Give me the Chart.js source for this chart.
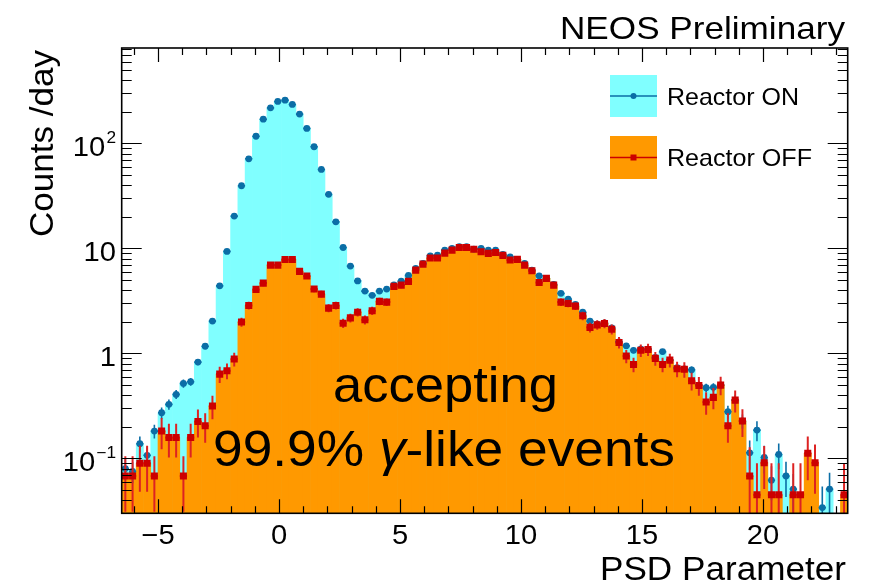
<!DOCTYPE html>
<html>
<head>
<meta charset="utf-8">
<script src="https://cdn.jsdelivr.net/npm/chart.js@4.4.0/dist/chart.umd.min.js"></script>
<style>
  html, body { margin: 0; padding: 0; background: #fff; }
  #wrap { width: 878px; height: 586px; }
</style>
</head>
<body>
<div id="wrap"><canvas id="psdChart" width="878" height="586"></canvas></div>
<script>
// binning of the PSD histogram
const xMin = -6.5, xMax = 23.5, binWidth = 0.3;
const yMin = 0.03, yMax = 810;

// counts/day per bin
const reactorOn = [
  0.080, 0.075, 0.138, 0.107, 0.182, 0.272, 0.327, 0.407, 0.518, 0.537,
  0.826, 1.17, 2.03, 4.40, 9.36, 20.3, 39.5, 71.3, 117, 170,
  218, 251, 258, 235, 190, 139, 92.9, 56.5, 32.7, 17.9,
  10.2, 6.78, 4.90, 3.92, 3.57, 3.92, 4.10, 4.50, 4.88, 5.53,
  6.45, 7.20, 8.50, 8.63, 9.63, 10.0, 10.4, 10.4, 9.85, 10.0,
  9.63, 9.63, 8.77, 8.32, 7.86, 7.20, 6.21, 5.48, 5.18, 4.54,
  3.73, 3.29, 2.93, 2.47, 2.03, 1.90, 1.95, 1.75, 1.29, 1.18,
  1.07, 1.10, 1.10, 0.916, 1.04, 0.863, 0.730, 0.713, 0.698, 0.499,
  0.471, 0.475, 0.499, 0.278, 0.359, 0.227, 0.113, 0.186, 0.102, 0.062,
  0.109, 0.068, 0.051, 0, 0, 0, 0.034, 0.051, 0, 0
];
const reactorOff = [
  0.068, 0.068, 0.090, 0.090, 0.068, 0.182, 0.158, 0.158, 0.068, 0.158,
  0.225, 0.205, 0.315, 0.635, 0.683, 0.883, 1.99, 2.86, 4.07, 4.67,
  6.93, 6.93, 7.85, 7.85, 6.04, 5.45, 4.10, 3.67, 2.70, 2.86,
  1.94, 2.18, 2.47, 2.09, 2.55, 3.13, 3.08, 4.35, 4.47, 4.85,
  6.21, 7.08, 8.09, 8.09, 9.02, 9.63, 10.2, 10.2, 9.80, 9.29,
  8.96, 9.15, 8.58, 7.74, 7.86, 6.93, 6.12, 4.74, 5.18, 4.47,
  3.08, 2.99, 2.82, 2.28, 1.77, 1.87, 1.93, 1.70, 1.27, 0.943,
  0.785, 1.07, 1.09, 0.896, 0.785, 0.863, 0.713, 0.705, 0.548, 0.495,
  0.344, 0.381, 0.499, 0.205, 0.359, 0.227, 0.068, 0.045, 0.091, 0.045,
  0.045, 0, 0.045, 0.045, 0.112, 0.091, 0, 0, 0, 0.045
];
// statistical errors (counts/day)
const reactorOnErr = [
  0.018, 0.017, 0.024, 0.021, 0.027, 0.033, 0.036, 0.040, 0.046, 0.046,
  0.057, 0.068, 0.090, 0.13, 0.19, 0.28, 0.40, 0.53, 0.68, 0.82,
  0.93, 1.0, 1.0, 0.97, 0.87, 0.75, 0.61, 0.48, 0.36, 0.27,
  0.20, 0.16, 0.14, 0.125, 0.12, 0.125, 0.128, 0.134, 0.14, 0.149,
  0.16, 0.17, 0.184, 0.186, 0.196, 0.20, 0.204, 0.204, 0.198, 0.20,
  0.196, 0.196, 0.187, 0.182, 0.177, 0.17, 0.158, 0.148, 0.144, 0.135,
  0.122, 0.115, 0.108, 0.099, 0.09, 0.087, 0.088, 0.084, 0.072, 0.069,
  0.065, 0.066, 0.066, 0.061, 0.064, 0.059, 0.054, 0.053, 0.053, 0.045,
  0.043, 0.044, 0.045, 0.04, 0.045, 0.035, 0.035, 0.04, 0.03, 0.022,
  0.03, 0.025, 0.02, 0, 0, 0, 0.02, 0.022, 0, 0
];
const reactorOffErr = [
  0.037, 0.037, 0.042, 0.042, 0.037, 0.060, 0.056, 0.056, 0.037, 0.056,
  0.067, 0.064, 0.079, 0.113, 0.117, 0.133, 0.20, 0.24, 0.285, 0.306,
  0.372, 0.372, 0.396, 0.396, 0.348, 0.33, 0.286, 0.271, 0.232, 0.239,
  0.197, 0.209, 0.222, 0.204, 0.226, 0.25, 0.248, 0.295, 0.299, 0.311,
  0.352, 0.376, 0.402, 0.402, 0.425, 0.439, 0.452, 0.452, 0.443, 0.431,
  0.423, 0.428, 0.414, 0.393, 0.396, 0.372, 0.35, 0.308, 0.322, 0.299,
  0.248, 0.245, 0.237, 0.214, 0.188, 0.193, 0.196, 0.184, 0.159, 0.137,
  0.125, 0.146, 0.148, 0.134, 0.125, 0.131, 0.119, 0.119, 0.105, 0.10,
  0.083, 0.087, 0.10, 0.064, 0.085, 0.067, 0.06, 0.045, 0.04, 0.045,
  0.045, 0, 0.045, 0.045, 0.05, 0.045, 0, 0, 0, 0.045
];

const xTicks = [-5, 0, 5, 10, 15, 20];
const xTickLabels = ['\u22125', '0', '5', '10', '15', '20'];
const yTicks = [0.1, 1, 10, 100];
const yTickLabels = [['10', '\u22121'], ['1', ''], ['10', ''], ['10', '2']];

const cyanFill = '#80ffff', orangeFill = '#ff9900';
const blueMark = '#0b6ea6', redMark = '#cc0000';
const FONT = '"Liberation Sans", Arial, Helvetica, sans-serif';

const binCenters = reactorOn.map((_, i) => +(xMin + binWidth * (i + 0.5)).toFixed(3));
const toPoints = arr => arr.map((v, i) => ({ x: binCenters[i], y: v > 0 ? v : null }));

function fitText(ctx, txt, x, y, size, width, align, style, stretch) {
  ctx.save();
  ctx.font = (style || '') + ' ' + size + 'px ' + FONT;
  const w = ctx.measureText(txt).width;
  const sx = width ? width / w : (stretch || 1);
  ctx.translate(x, y);
  ctx.scale(sx, 1);
  ctx.textAlign = align || 'left';
  ctx.textBaseline = 'alphabetic';
  ctx.fillStyle = '#000';
  ctx.fillText(txt, 0, 0);
  ctx.restore();
}

// error bars, drawn just before each marker dataset
const errorBars = {
  id: 'errorBars',
  beforeDatasetDraw(chart, args) {
    const ds = chart.data.datasets[args.index];
    if (!ds.errors) return;
    const { ctx, chartArea, scales: { x, y } } = chart;
    ctx.save();
    ctx.beginPath();
    ctx.rect(chartArea.left, chartArea.top, chartArea.right - chartArea.left, chartArea.bottom - chartArea.top);
    ctx.clip();
    ctx.strokeStyle = ds.errColor;
    ctx.lineWidth = ds.errWidth;
    ds.data.forEach((p, i) => {
      if (p.y == null) return;
      const e = ds.errors[i];
      const px = x.getPixelForValue(p.x);
      const py = y.getPixelForValue(p.y);
      const lo = p.y - e > 0 ? y.getPixelForValue(p.y - e) : chartArea.bottom + 2;
      const hi = y.getPixelForValue(p.y + e);
      const hw = (x.getPixelForValue(binWidth) - x.getPixelForValue(0)) / 2;
      ctx.beginPath();
      ctx.moveTo(px, lo); ctx.lineTo(px, hi);
      ctx.moveTo(px - hw, py); ctx.lineTo(px + hw, py);
      ctx.stroke();
    });
    ctx.restore();
  }
};

// ROOT-style frame, ticks, labels, legend and text
const decorations = {
  id: 'decorations',
  afterDraw(chart) {
    const { ctx, chartArea: a, scales: { x, y } } = chart;
    ctx.save();
    ctx.strokeStyle = '#000';
    ctx.lineWidth = 1.2;
    ctx.beginPath();
    for (let v = Math.ceil(xMin); v <= xMax; v++) {
      const px = Math.round(x.getPixelForValue(v)) + 0.5;
      const len = v % 5 === 0 ? 14 : 7;
      ctx.moveTo(px, a.bottom); ctx.lineTo(px, a.bottom - len);
      ctx.moveTo(px, a.top); ctx.lineTo(px, a.top + len);
    }
    [0.01, 0.1, 1, 10, 100].forEach(d => {
      for (let m = 1; m <= 9; m++) {
        const v = m * d;
        if (v < yMin || v > yMax) continue;
        const py = Math.round(y.getPixelForValue(v)) + 0.5;
        const len = m === 1 ? 20 : 10;
        ctx.moveTo(a.left, py); ctx.lineTo(a.left + len, py);
        ctx.moveTo(a.right, py); ctx.lineTo(a.right - len, py);
      }
    });
    ctx.stroke();
    ctx.lineWidth = 1.6;
    ctx.strokeRect(a.left, a.top, a.right - a.left, a.bottom - a.top);
    ctx.restore();

    // x tick labels
    xTicks.forEach((v, i) => {
      fitText(ctx, xTickLabels[i], x.getPixelForValue(v), 544, 27, null, 'center', '', 1.08);
    });
    // y tick labels with superscript exponents
    yTicks.forEach((v, i) => {
      const py = y.getPixelForValue(v) + 13;
      const [base, sup] = yTickLabels[i];
      ctx.save();
      ctx.fillStyle = '#000';
      ctx.textBaseline = 'alphabetic';
      ctx.textAlign = 'right';
      ctx.translate(116, py);
      ctx.scale(1.08, 1);
      let right = 0;
      if (sup) {
        ctx.font = '16px ' + FONT;
        ctx.fillText(sup, right, -13);
        right -= ctx.measureText(sup).width + 1;
      }
      ctx.font = '27px ' + FONT;
      ctx.fillText(base, right, 0);
      ctx.restore();
    });

    // axis titles
    fitText(ctx, 'PSD Parameter', 846, 580, 33, 246, 'right');
    ctx.save();
    ctx.translate(53, 237);
    ctx.rotate(-Math.PI / 2);
    fitText(ctx, 'Counts /day', 0, 0, 34, 187, 'left');
    ctx.restore();
    fitText(ctx, 'NEOS Preliminary', 845, 39, 32, 285, 'right');

    // legend
    ctx.save();
    ctx.fillStyle = cyanFill;
    ctx.fillRect(610, 75, 47, 42);
    ctx.fillStyle = orangeFill;
    ctx.fillRect(610, 136, 47, 43);
    ctx.lineWidth = 1.5;
    ctx.strokeStyle = blueMark;
    ctx.beginPath(); ctx.moveTo(610, 96); ctx.lineTo(657, 96); ctx.stroke();
    ctx.fillStyle = blueMark;
    ctx.beginPath(); ctx.arc(633.5, 96, 3, 0, Math.PI * 2); ctx.fill();
    ctx.strokeStyle = redMark;
    ctx.beginPath(); ctx.moveTo(610, 157.5); ctx.lineTo(657, 157.5); ctx.stroke();
    ctx.fillStyle = redMark;
    ctx.fillRect(630.5, 154.5, 6, 6);
    ctx.restore();
    fitText(ctx, 'Reactor ON', 667, 105, 24, 132, 'left');
    fitText(ctx, 'Reactor OFF', 667, 166, 24, 145, 'left');

    // annotation
    fitText(ctx, 'accepting', 445.5, 402, 50, 225, 'center');
    ctx.save();
    const parts = [['99.9% ', ''], ['\u03b3', 'italic'], ['-like events', '']];
    const size = 50;
    let total = 0;
    const widths = parts.map(([t, s]) => {
      ctx.font = s + ' ' + size + 'px ' + FONT;
      const w = ctx.measureText(t).width;
      total += w;
      return w;
    });
    const sx = 462 / total;
    ctx.translate(213, 466);
    ctx.scale(sx, 1);
    ctx.fillStyle = '#000';
    ctx.textBaseline = 'alphabetic';
    let cx = 0;
    parts.forEach(([t, s], i) => {
      ctx.font = s + ' ' + size + 'px ' + FONT;
      ctx.fillText(t, cx, 0);
      cx += widths[i];
    });
    ctx.restore();
  }
};

const ctx = document.getElementById('psdChart').getContext('2d');
const psdChart = new Chart(ctx, {
  type: 'bar',
  data: {
    datasets: [
      {
        type: 'line', label: 'Reactor OFF markers', data: toPoints(reactorOff), order: 0,
        showLine: false, pointStyle: 'rect', pointRadius: 5, pointHoverRadius: 5,
        pointBackgroundColor: redMark, pointBorderWidth: 0,
        errors: reactorOffErr, errColor: '#dd2222', errWidth: 2
      },
      {
        type: 'line', label: 'Reactor ON markers', data: toPoints(reactorOn), order: 1,
        showLine: false, pointStyle: 'circle', pointRadius: 3.4, pointHoverRadius: 3.4,
        pointBackgroundColor: blueMark, pointBorderWidth: 0,
        errors: reactorOnErr, errColor: blueMark, errWidth: 1.6
      },
      {
        label: 'Reactor OFF', data: toPoints(reactorOff), order: 2,
        backgroundColor: orangeFill, borderWidth: 0,
        barPercentage: 1, categoryPercentage: 1, grouped: false
      },
      {
        label: 'Reactor ON', data: toPoints(reactorOn), order: 3,
        backgroundColor: cyanFill, borderWidth: 0,
        barPercentage: 1, categoryPercentage: 1, grouped: false
      }
    ]
  },
  options: {
    responsive: false,
    devicePixelRatio: 1,
    animation: false,
    layout: { padding: { top: 48, right: 30.3, left: 0, bottom: 0 } },
    plugins: { legend: { display: false }, tooltip: { enabled: false } },
    scales: {
      x: {
        type: 'linear', min: xMin, max: xMax, offset: false,
        grid: { display: false }, border: { display: false },
        ticks: { display: false },
        afterFit: s => { s.height = 72.7; }
      },
      y: {
        type: 'logarithmic', min: yMin, max: yMax,
        grid: { display: false }, border: { display: false },
        ticks: { display: false },
        afterFit: s => { s.width = 121.7; }
      }
    }
  },
  plugins: [errorBars, decorations]
});
</script>
</body>
</html>
